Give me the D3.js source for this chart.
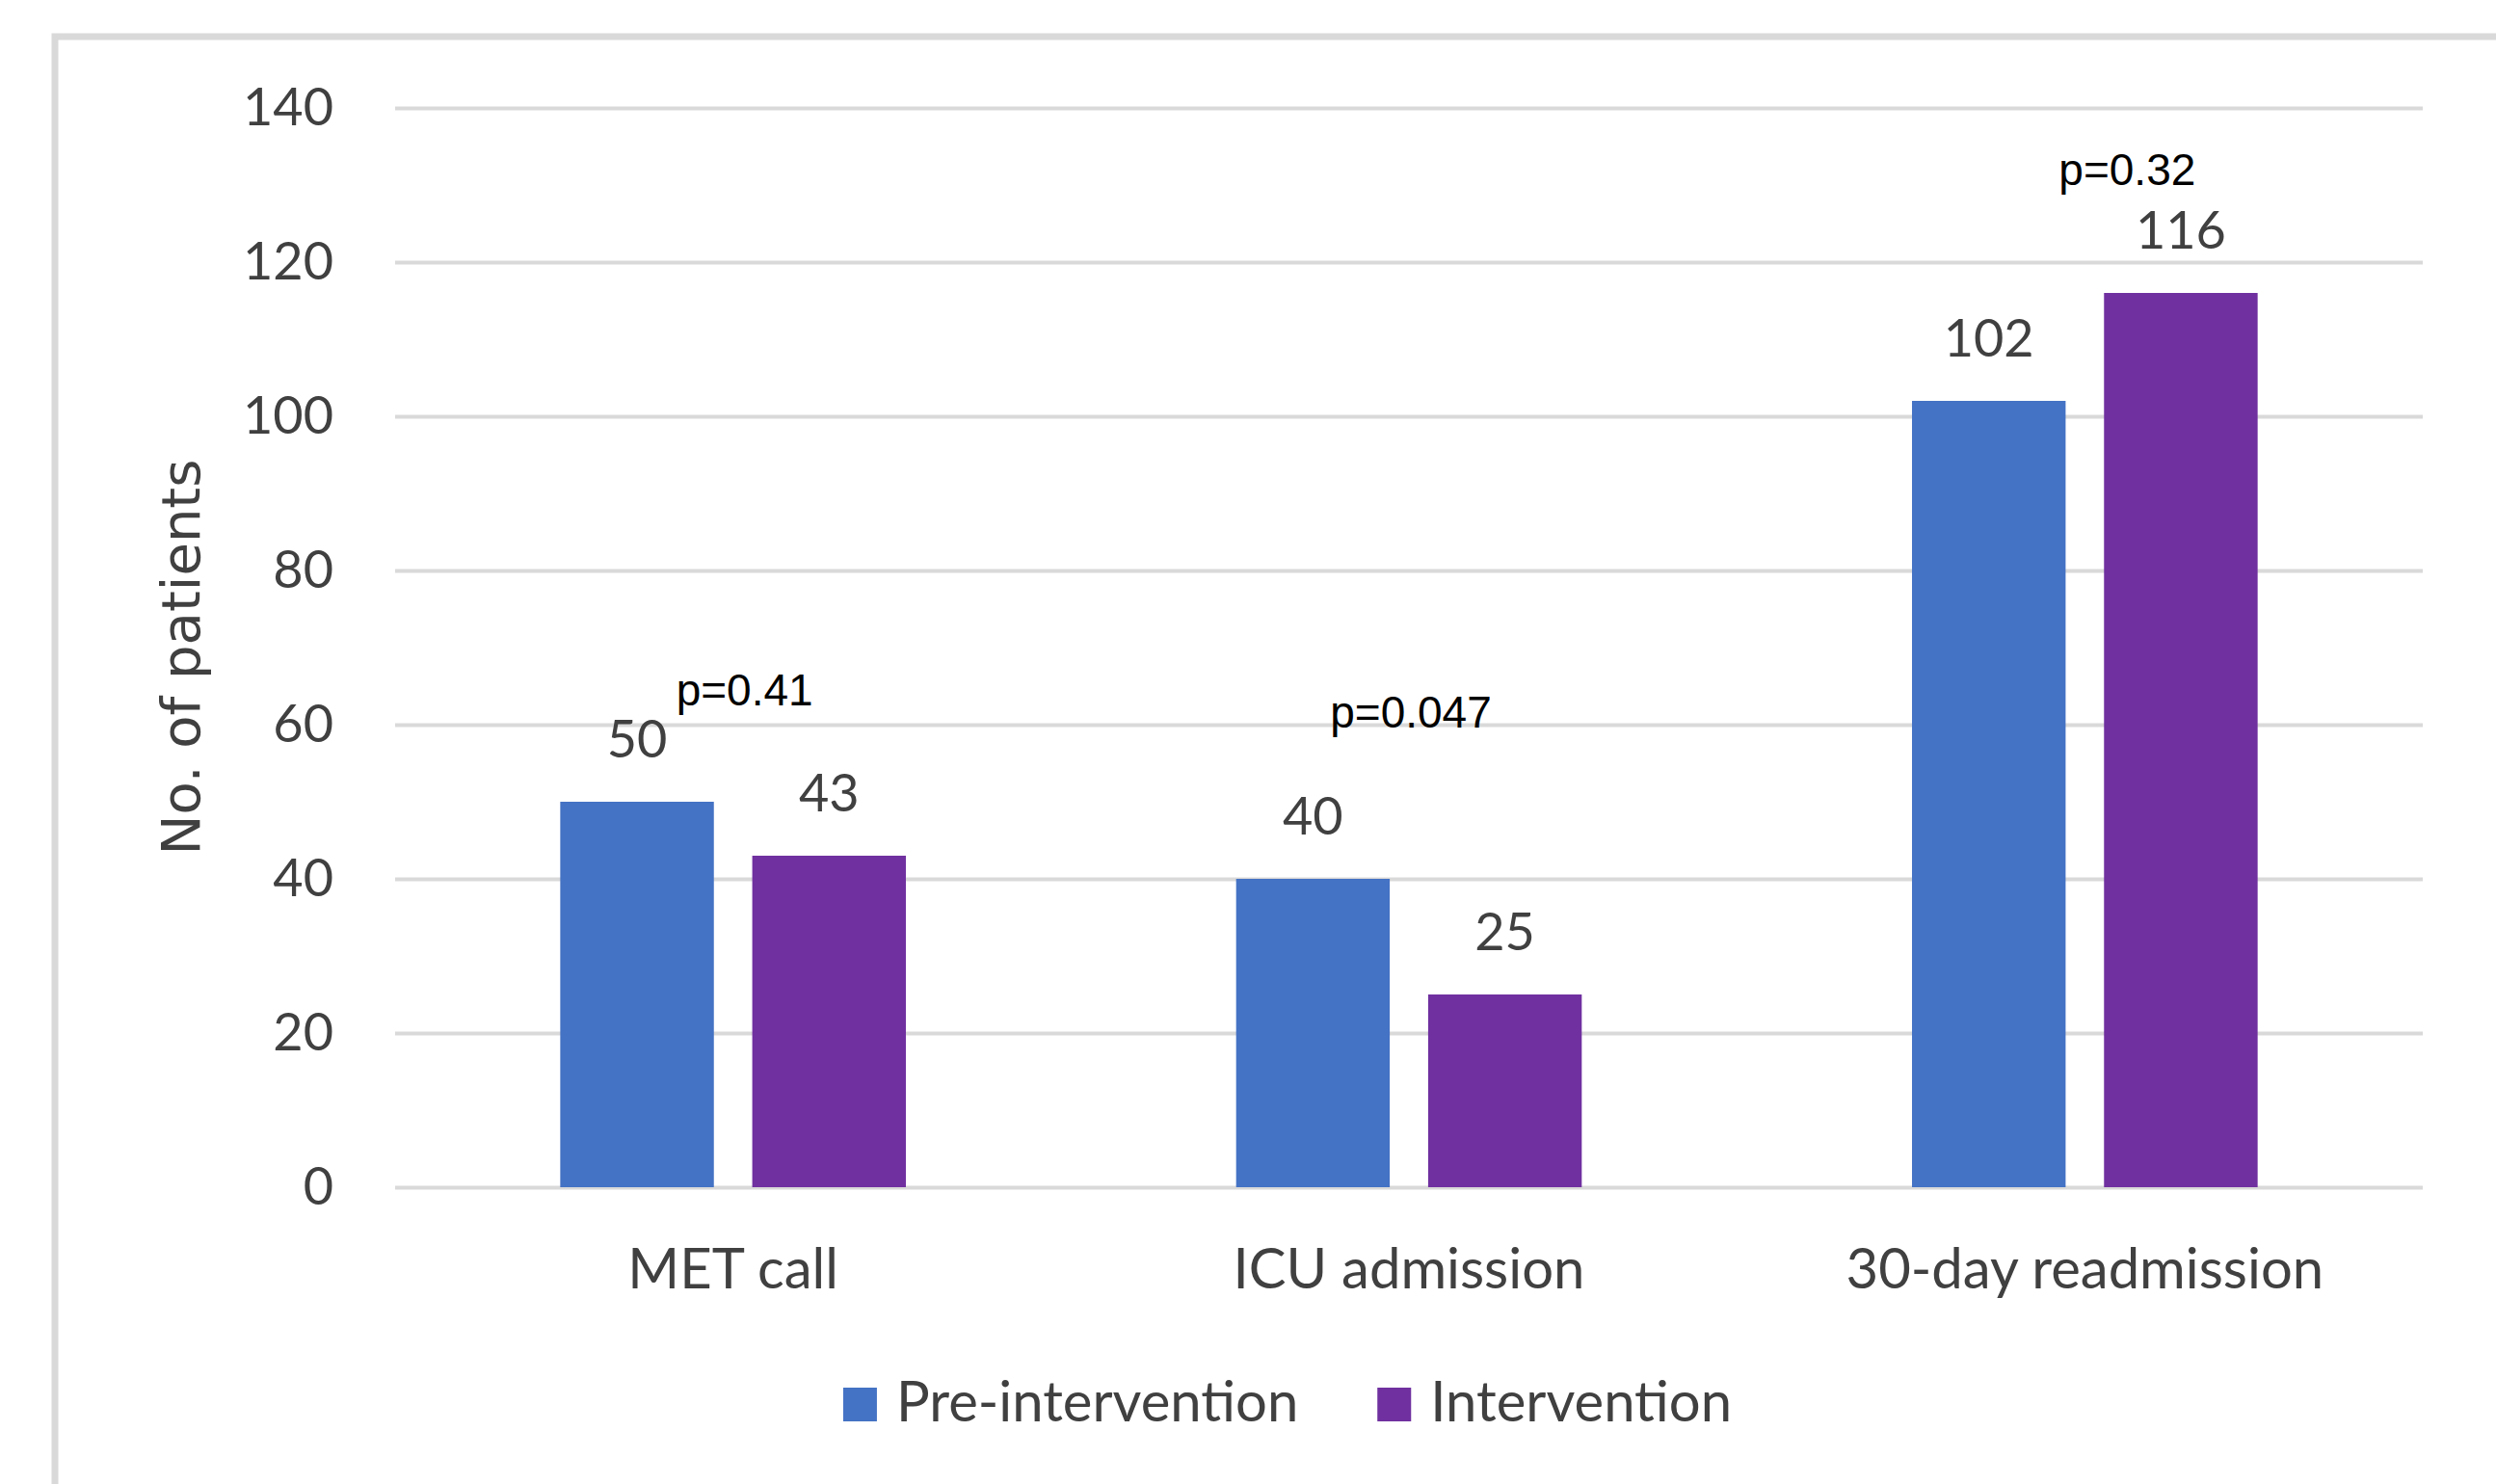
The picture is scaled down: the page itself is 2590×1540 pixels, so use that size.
<!DOCTYPE html>
<html>
<head>
<meta charset="utf-8">
<script src="https://cdn.jsdelivr.net/npm/d3@7"></script>
<style>
  html, body { margin: 0; padding: 0; background: #fff; }
</style>
</head>
<body>
<div id="chart"></div>
<script>
const categories = ['MET call', 'ICU admission', '30-day readmission'];
const seriesNames = ['Pre-intervention', 'Intervention'];
const preValues = [50, 40, 102];
const interventionValues = [43, 25, 116];
const yTicks = [0, 20, 40, 60, 80, 100, 120, 140];
const pLabels = ['p=0.41', 'p=0.047', 'p=0.32'];
const pLevels = [62.5, 59.6, 130];

const makePlot = () => {
  const size = { width: 2590, height: 1540 };
  const frame = { left: 57, top: 38 };
  const plot = { left: 410, right: 2514, top: 112, bottom: 1232 };

  const colors = {
    'Pre-intervention': '#4472c4',
    Intervention: '#7030a0',
  };

  const svg = d3
    .select('#chart')
    .append('svg')
    .attr('width', size.width)
    .attr('height', size.height);

  svg
    .append('rect')
    .attr('x', frame.left)
    .attr('y', frame.top)
    .attr('width', size.width + 20)
    .attr('height', size.height + 20)
    .attr('fill', '#fff')
    .attr('stroke', '#d9d9d9')
    .attr('stroke-width', 7);

  const y = d3.scaleLinear().domain([0, 140]).range([plot.bottom, plot.top]);

  const x0 = d3
    .scaleBand()
    .domain(categories)
    .range([plot.left, plot.right]);

  const x1 = d3
    .scaleBand()
    .domain(seriesNames)
    .range([0, x0.bandwidth()])
    .paddingInner(0.2)
    .paddingOuter(0.86);

  // gridlines
  svg
    .append('g')
    .attr('transform', `translate(${plot.left},0)`)
    .call(
      d3.axisLeft(y)
        .tickValues(yTicks)
        .tickSize(-(plot.right - plot.left))
        .tickFormat(''),
    )
    .call((g) => g.select('.domain').remove())
    .call((g) => g.selectAll('line').attr('stroke', '#d9d9d9').attr('stroke-width', 4));

  // y tick labels
  svg
    .append('g')
    .attr('transform', `translate(${plot.left - 64},0)`)
    .call(d3.axisLeft(y).tickValues(yTicks).tickSize(0).tickPadding(0))
    .call((g) => g.select('.domain').remove())
    .call((g) =>
      g
        .selectAll('text')
        .attr('font-family', 'Lato')
        .attr('font-size', '54px')
        .attr('fill', '#404040'),
    );

  svg
    .append('text')
    .attr('transform', `translate(${192}, ${(plot.top + plot.bottom) / 2 + 10}) rotate(-90)`)
    .attr('text-anchor', 'middle')
    .attr('dominant-baseline', 'middle')
    .attr('font-family', 'DejaVu Sans')
    .attr('font-size', '56px')
    .attr('fill', '#404040')
    .text('No. of patients');

  const rows = categories.map((c, i) => ({
    category: c,
    values: [
      { series: seriesNames[0], value: preValues[i] },
      { series: seriesNames[1], value: interventionValues[i] },
    ],
  }));

  const groups = svg
    .selectAll('.group')
    .data(rows)
    .join('g')
    .attr('class', 'group')
    .attr('transform', (d) => `translate(${x0(d.category)},0)`);

  groups
    .selectAll('rect')
    .data((d) => d.values)
    .join('rect')
    .attr('x', (d) => x1(d.series))
    .attr('y', (d) => y(d.value))
    .attr('width', x1.bandwidth())
    .attr('height', (d) => y(0) - y(d.value))
    .attr('fill', (d) => colors[d.series]);

  groups
    .selectAll('.val')
    .data((d) => d.values)
    .join('text')
    .attr('class', 'val')
    .attr('x', (d) => x1(d.series) + x1.bandwidth() / 2)
    .attr('y', (d) => y(d.value) - 46)
    .attr('text-anchor', 'middle')
    .attr('font-family', 'Lato')
    .attr('font-size', '54px')
    .attr('fill', '#404040')
    .text((d) => d.value);

  // category labels
  svg
    .selectAll('.cat')
    .data(categories)
    .join('text')
    .attr('class', 'cat')
    .attr('x', (d) => x0(d) + x0.bandwidth() / 2)
    .attr('y', plot.bottom + 105)
    .attr('text-anchor', 'middle')
    .attr('font-family', 'Lato')
    .attr('font-size', '58px')
    .attr('fill', '#404040')
    .text((d) => d);

  // p-value annotations
  const pShift = [12, 2, 44];
  svg
    .selectAll('.pval')
    .data(pLabels)
    .join('text')
    .attr('class', 'pval')
    .attr('x', (d, i) => x0(categories[i]) + x0.bandwidth() / 2 + pShift[i])
    .attr('y', (d, i) => y(pLevels[i]))
    .attr('text-anchor', 'middle')
    .attr('font-family', 'Liberation Sans')
    .attr('font-size', '46px')
    .attr('fill', '#000')
    .text((d) => d);

  // legend
  const legend = svg.append('g');
  const items = legend
    .selectAll('g')
    .data(seriesNames)
    .join('g');
  items
    .append('rect')
    .attr('width', 35)
    .attr('height', 35)
    .attr('y', -35)
    .attr('fill', (d) => colors[d]);
  items
    .append('text')
    .attr('x', 55)
    .attr('font-family', 'Lato')
    .attr('font-size', '58px')
    .attr('fill', '#404040')
    .text((d) => d);

  let offset = 0;
  items.each(function () {
    d3.select(this).attr('transform', `translate(${offset},0)`);
    offset += this.getBBox().width + 82;
  });
  const legendWidth = offset - 82;
  legend.attr('transform', `translate(${1336 - legendWidth / 2}, ${plot.bottom + 243})`);
};

makePlot();
</script>
</body>
</html>
